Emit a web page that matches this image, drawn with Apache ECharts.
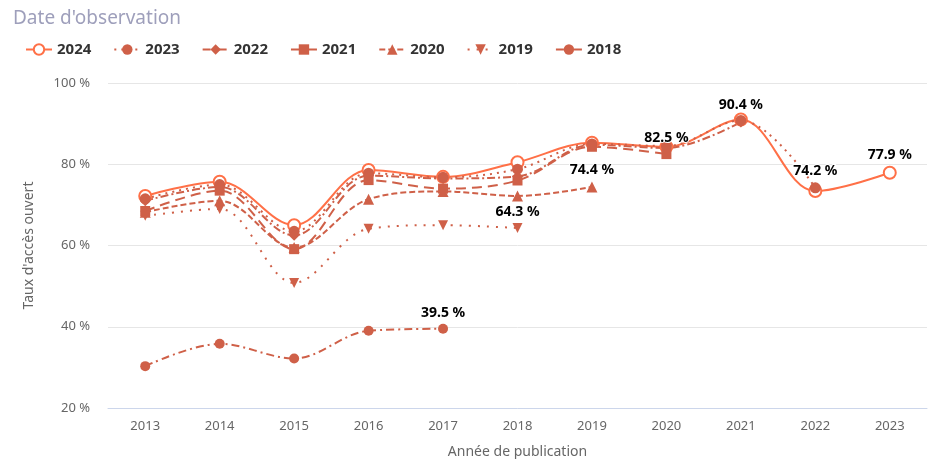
<!DOCTYPE html>
<html>
<head>
<meta charset="utf-8">
<script src="https://cdn.jsdelivr.net/npm/echarts@6/dist/echarts.min.js"></script>
<style>
html,body{margin:0;padding:0;background:#fff;}
#chart{width:937px;height:459px;}
</style>
</head>
<body>
<div id="chart"></div>
<script>
var categories = ['2013','2014','2015','2016','2017','2018','2019','2020','2021','2022','2023'];
var seriesNames = ['2024','2023','2022','2021','2020','2019','2018'];
var s2024 = [72.2, 75.7, 65.0, 78.6, 76.9, 80.5, 85.3, 84.3, 91.0, 73.4, 77.9];
var s2023 = [71.5, 75.0, 63.5, 77.8, 76.8, 78.8, 85.0, 84.5, 90.8, 74.2, null];
var s2022 = [71.0, 74.4, 62.5, 77.2, 76.5, 77.0, 84.8, 84.0, 90.4, null, null];
var s2021 = [68.5, 73.5, 59.1, 76.1, 74.0, 76.0, 84.3, 82.5, null, null, null];
var s2020 = [68.2, 71.0, 59.5, 71.4, 73.3, 72.2, 74.4, null, null, null, null];
var s2019 = [67.3, 69.0, 50.8, 64.1, 65.0, 64.3, null, null, null, null, null];
var s2018 = [30.3, 35.8, 32.2, 39.0, 39.5, null, null, null, null, null, null];
var yTicks = [20, 40, 60, 80, 100];

var values = [s2024, s2023, s2022, s2021, s2020, s2019, s2018];
var styles = [
  {color:'#ff7047', symbol:'emptyCircle', size:12, type:'solid'},
  {color:'#cf6048', symbol:'circle', size:11, type:[2,5]},
  {color:'#cf6048', symbol:'diamond', size:11, type:[8,3,2,3]},
  {color:'#cf6048', symbol:'rect', size:10, type:[10,6]},
  {color:'#cf6048', symbol:'triangle', size:11, type:[6,3]},
  {color:'#cf6048', symbol:'path://M0,0 L10,0 L5,10 Z', size:10, type:[2,7]},
  {color:'#cf6048', symbol:'circle', size:10, type:[8,4,2,4]}
];

function buildData(arr){
  var last = -1;
  for (var i=0;i<arr.length;i++){ if(arr[i]!==null) last=i; }
  return arr.map(function(v,i){
    if (i===last) return {value:v, label:{show:true}};
    return v;
  });
}

var series = seriesNames.map(function(n,k){
  var st = styles[k];
  return {
    name:n, type:'line', smooth:0.35,
    data: buildData(values[k]),
    symbol: st.symbol, symbolSize: st.size,
    showAllSymbol:true,
    itemStyle:{color:st.color, borderWidth: st.symbol==='emptyCircle'?2:0, borderColor:st.color},
    lineStyle:{color:st.color, width:2, type:st.type},
    label:{show:false, position:'top', distance:4, formatter:function(p){return p.value.toFixed(1)+' %';},
      color:'#000', fontSize:14, fontWeight:'bold', fontFamily:'Noto Sans',
      textBorderColor:'#fff', textBorderWidth:2},
    emphasis:{disabled:true}
  };
});

var chart = echarts.init(document.getElementById('chart'), null, {renderer:'canvas'});
chart.setOption({
  animation:false,
  backgroundColor:'#fff',
  title:{text:"Date d'observation", left:8, top:4,
    textStyle:{color:'#9e9fbb', fontSize:19, fontWeight:'normal', fontFamily:'Noto Sans'}},
  legend:{left:20, top:37, itemWidth:26, itemHeight:13, itemGap:22,
    data:seriesNames,
    textStyle:{color:'#333', fontSize:15, fontWeight:'bold', fontFamily:'Noto Sans'}},
  grid:{left:108, right:10, top:83, bottom:51, outerBoundsMode:'none', containLabel:false},
  xAxis:{type:'category', data:categories, boundaryGap:true,
    name:'Année de publication', nameLocation:'middle', nameGap:37,
    nameTextStyle:{color:'#666', fontSize:14, fontFamily:'Noto Sans'},
    axisLine:{lineStyle:{color:'#ccd6eb'}}, axisTick:{show:false},
    axisLabel:{color:'#666', fontSize:13, fontFamily:'Noto Sans', margin:12}},
  yAxis:{type:'value', min:yTicks[0], max:yTicks[yTicks.length-1], interval:20,
    name:"Taux d'accès ouvert", nameLocation:'middle', nameGap:72,
    nameTextStyle:{color:'#666', fontSize:14, fontFamily:'Noto Sans'},
    axisLine:{show:false}, axisTick:{show:false},
    splitLine:{lineStyle:{color:'#e6e6e6'}},
    axisLabel:{color:'#666', fontSize:13, fontFamily:'Noto Sans', margin:18, formatter:'{value} %'}},
  series:series
});
</script>
</body>
</html>
